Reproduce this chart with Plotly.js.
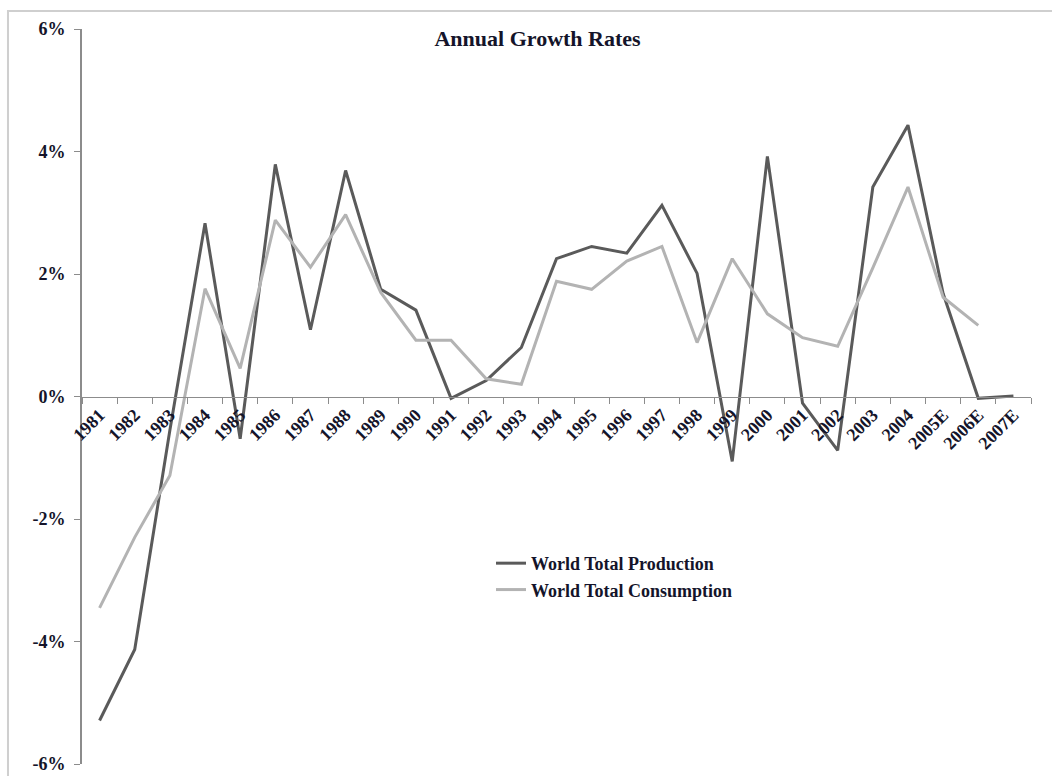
<!DOCTYPE html>
<html>
<head>
<meta charset="utf-8">
<script src="https://cdn.plot.ly/plotly-3.0.1.min.js"></script>
<style>
  html, body { margin: 0; padding: 0; background: #fff; }
  #chart { width: 1052px; height: 776px; }
</style>
</head>
<body>
<div id="chart"></div>
<script>
const years = ["1981","1982","1983","1984","1985","1986","1987","1988","1989","1990",
  "1991","1992","1993","1994","1995","1996","1997","1998","1999","2000",
  "2001","2002","2003","2004","2005E","2006E","2007E"];

const production = [-5.29, -4.13, -0.55, 2.83, -0.69, 3.79, 1.09, 3.69, 1.75, 1.41,
  -0.03, 0.26, 0.80, 2.25, 2.45, 2.34, 3.12, 2.01, -1.06, 3.92,
  -0.11, -0.88, 3.42, 4.43, 1.68, -0.03, 0.01];

const consumption = [-3.45, -2.30, -1.29, 1.76, 0.46, 2.88, 2.11, 2.97, 1.70, 0.92,
  0.92, 0.29, 0.20, 1.88, 1.75, 2.21, 2.45, 0.88, 2.25, 1.35,
  0.96, 0.82, 2.10, 3.42, 1.62, 1.16, null];

const yTicks = [-6, -4, -2, 0, 2, 4, 6];
const yTickLabels = ["-6%", "-4%", "-2%", "0%", "2%", "4%", "6%"];

const serif = "Liberation Serif, Times New Roman, serif";
const textColor = "#14142a";

const data = [
  {
    x: years, y: production, name: "World Total Production",
    type: "scatter", mode: "lines",
    line: { color: "#5a5a5a", width: 3 }
  },
  {
    x: years, y: consumption, name: "World Total Consumption",
    type: "scatter", mode: "lines",
    line: { color: "#b3b3b3", width: 3 }
  }
];

const layout = {
  width: 1052, height: 776,
  margin: { l: 82, r: 21, t: 29, b: 12, pad: 0 },
  paper_bgcolor: "#ffffff", plot_bgcolor: "rgba(0,0,0,0)",
  showlegend: true,
  title: {
    text: "<b>Annual Growth Rates</b>",
    font: { family: serif, size: 22, color: textColor },
    xref: "container", yref: "container",
    x: 0.511, xanchor: "center", y: 0.951, yanchor: "middle"
  },
  xaxis: {
    type: "category",
    range: [-0.5, 26.5],
    anchor: "free", position: 0.5,
    showline: true, linecolor: "#8c8c8c", linewidth: 1,
    ticks: "outside", tickson: "boundaries", ticklen: 6, tickcolor: "#8c8c8c", tickwidth: 1,
    tickangle: -45,
    tickfont: { family: serif, size: 18, color: textColor, weight: "bold" },
    showgrid: false, zeroline: false, fixedrange: true
  },
  yaxis: {
    range: [-6, 6],
    tickvals: yTicks, ticktext: yTickLabels,
    showline: true, linecolor: "#8c8c8c", linewidth: 2,
    ticks: "outside", ticklen: 6, tickcolor: "#8c8c8c", tickwidth: 1,
    ticklabelstandoff: 5,
    tickfont: { family: serif, size: 18, color: textColor, weight: "bold" },
    showgrid: false, zeroline: false, fixedrange: true
  },
  legend: {
    x: 0.431, xanchor: "left", y: 0.298, yanchor: "top",
    bgcolor: "rgba(0,0,0,0)", borderwidth: 0,
    font: { family: serif, size: 18, color: textColor, weight: "bold" },
    itemwidth: 30, tracegroupgap: 0
  },
  shapes: [
    {
      type: "rect", xref: "paper", yref: "paper",
      x0: -0.078, x1: 1.2, y0: -0.2, y1: 1.0245,
      line: { color: "#cfcfcf", width: 2 },
      fillcolor: "rgba(0,0,0,0)", layer: "below"
    }
  ]
};

Plotly.newPlot("chart", data, layout, { displayModeBar: false, staticPlot: true });
</script>
</body>
</html>
